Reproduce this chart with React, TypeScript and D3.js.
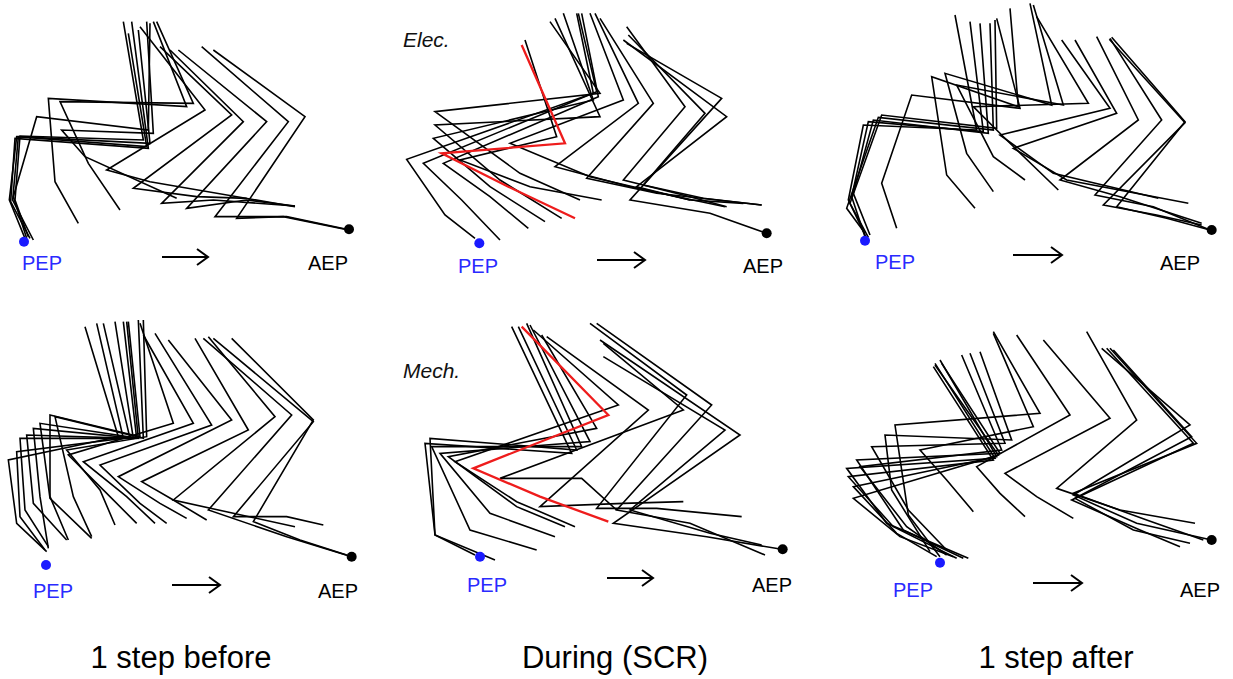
import React from 'react';
import * as d3 from 'd3';

type Pt = [number, number];
type Stick = Pt[];

// Column titles and row labels
const columnTitles = ['1 step before', 'During (SCR)', '1 step after'];
const rowLabels = ['Elec.', 'Mech.'];

// Leg stick figures (joint coordinates: coxa, femur-tibia, tibia-tarsus, tarsus, tip), in 1/3-px panel units
const elecBefore: Stick[] = [
  [[385, 100], [440, 440], [50, 410], [28, 600], [75, 715]],
  [[395, 65], [445, 445], [45, 415], [32, 605], [90, 715]],
  [[415, 90], [450, 430], [55, 410], [38, 600], [100, 720]],
  [[370, 65], [430, 420], [60, 408], [45, 600], [85, 710]],
  [[450, 70], [445, 390], [110, 350], [40, 590], [80, 715]],
  [[440, 65], [460, 400], [185, 390], [255, 470], [530, 595]],
  [[460, 65], [560, 320], [145, 295], [165, 545], [235, 670]],
  [[470, 65], [580, 310], [180, 305], [265, 490], [360, 630]],
  [[420, 80], [615, 330], [320, 510], [450, 545], [885, 620]],
  [[480, 140], [695, 345], [400, 565], [590, 590], [740, 595]],
  [[510, 150], [730, 365], [485, 610], [640, 600], [885, 618]],
  [[535, 150], [800, 365], [560, 625], [740, 600], [885, 618]],
  [[605, 140], [865, 365], [645, 650], [860, 650], [1040, 688]],
  [[640, 150], [915, 350], [710, 655], [850, 650], [1045, 690]],
];

const elecDuring: Stick[] = [
  [[560, 40], [610, 280], [50, 478], [165, 645], [255, 715]],
  [[565, 40], [620, 275], [100, 490], [215, 600], [330, 720]],
  [[575, 40], [625, 290], [160, 490], [300, 590], [415, 685]],
  [[520, 40], [610, 300], [130, 415], [300, 560], [465, 665]],
  [[495, 55], [630, 350], [135, 375], [330, 540], [515, 655]],
  [[480, 65], [630, 280], [135, 335], [390, 520], [570, 600]],
  [[405, 120], [500, 410], [210, 480], [420, 560], [635, 600]],
  [[600, 40], [700, 300], [360, 430], [600, 530], [900, 600]],
  [[615, 40], [745, 310], [495, 500], [720, 560], [1005, 620]],
  [[630, 55], [790, 310], [590, 535], [800, 580], [1115, 615]],
  [[710, 80], [885, 320], [700, 540], [900, 590], [1010, 620]],
  [[715, 105], [945, 340], [760, 555], [940, 595], [1115, 615]],
  [[710, 130], [995, 295], [720, 600], [960, 640], [1130, 700]],
  [[700, 120], [1010, 350], [740, 560], [900, 600], [1060, 610]],
];
const elecDuringRed: Stick = [[395, 135], [525, 430], [155, 460], [355, 560], [555, 655]];

const elecAfter: Stick[] = [
  [[405, 45], [470, 390], [130, 375], [85, 600], [140, 715]],
  [[450, 65], [490, 395], [145, 365], [95, 590], [135, 710]],
  [[480, 70], [505, 400], [160, 360], [100, 580], [150, 705]],
  [[510, 70], [520, 390], [175, 352], [80, 625], [135, 700]],
  [[525, 60], [530, 385], [185, 345], [90, 610], [145, 712]],
  [[530, 55], [600, 325], [275, 285], [185, 550], [230, 685]],
  [[570, 25], [595, 320], [335, 230], [380, 525], [465, 625]],
  [[630, 10], [695, 315], [375, 220], [440, 460], [520, 575]],
  [[640, 15], [730, 315], [410, 255], [520, 470], [615, 540]],
  [[650, 50], [805, 310], [460, 320], [560, 420], [715, 570]],
  [[725, 120], [870, 325], [540, 405], [700, 520], [1015, 595]],
  [[765, 120], [890, 340], [580, 445], [740, 540], [1105, 610]],
  [[830, 110], [955, 360], [720, 540], [900, 590], [1145, 670]],
  [[870, 115], [1025, 360], [825, 585], [1000, 620], [1170, 690]],
  [[875, 112], [1095, 365], [890, 620], [1040, 655], [1170, 690]],
  [[868, 118], [1095, 368], [850, 615], [1010, 645], [1145, 675]],
];

const mechBefore: Stick[] = [
  [[255, 50], [355, 380], [25, 450], [50, 640], [140, 725]],
  [[290, 40], [370, 385], [50, 425], [60, 620], [135, 720]],
  [[310, 40], [390, 385], [60, 385], [75, 600], [145, 710]],
  [[345, 35], [400, 385], [80, 375], [100, 580], [200, 690]],
  [[370, 35], [410, 385], [100, 355], [120, 560], [145, 715]],
  [[380, 35], [415, 385], [120, 340], [150, 565], [275, 685]],
  [[385, 35], [420, 380], [150, 315], [150, 560], [205, 690]],
  [[415, 30], [430, 385], [165, 320], [220, 560], [275, 680]],
  [[430, 30], [440, 380], [200, 420], [300, 540], [345, 645]],
  [[420, 40], [520, 340], [205, 435], [330, 560], [410, 640]],
  [[430, 75], [580, 340], [250, 455], [380, 560], [465, 640]],
  [[465, 70], [635, 345], [300, 465], [420, 580], [500, 640]],
  [[505, 90], [695, 330], [355, 500], [480, 580], [560, 625]],
  [[585, 85], [745, 360], [425, 515], [520, 570], [620, 630]],
  [[625, 80], [825, 320], [520, 570], [700, 610], [885, 650]],
  [[610, 85], [875, 315], [625, 600], [860, 680], [1055, 740]],
  [[640, 85], [940, 335], [700, 620], [860, 620], [970, 645]],
  [[695, 85], [940, 330], [760, 635], [900, 690], [1040, 735]],
];

const mechDuring: Stick[] = [
  [[365, 50], [545, 430], [105, 400], [135, 675], [315, 750]],
  [[385, 50], [560, 420], [120, 385], [135, 675], [255, 735]],
  [[410, 40], [575, 410], [125, 410], [240, 660], [440, 720]],
  [[420, 45], [600, 395], [150, 430], [300, 610], [495, 680]],
  [[455, 75], [620, 355], [175, 440], [380, 590], [525, 650]],
  [[430, 60], [685, 285], [195, 455], [380, 575], [555, 650]],
  [[470, 80], [775, 300], [450, 590], [700, 580], [880, 575]],
  [[600, 40], [890, 255], [620, 595], [800, 595], [1055, 620]],
  [[620, 40], [965, 285], [680, 600], [900, 640], [1125, 735]],
  [[630, 90], [1050, 375], [670, 640], [950, 680], [1175, 718]],
  [[640, 140], [1005, 360], [720, 600], [960, 670], [1115, 705]],
  [[640, 100], [880, 300], [330, 505], [575, 505], [680, 600]],
];
const mechDuringRed: Stick = [[395, 50], [655, 315], [250, 475], [450, 560], [655, 635]];

const mechAfter: Stick[] = [
  [[345, 160], [525, 445], [80, 475], [200, 640], [445, 745]],
  [[340, 170], [520, 450], [85, 500], [220, 650], [410, 745]],
  [[360, 150], [530, 440], [100, 530], [230, 670], [350, 740]],
  [[345, 165], [535, 435], [100, 565], [240, 680], [400, 740]],
  [[365, 160], [540, 430], [110, 450], [250, 660], [430, 745]],
  [[425, 135], [545, 420], [120, 470], [260, 650], [380, 735]],
  [[450, 130], [555, 400], [155, 410], [265, 600], [380, 720]],
  [[480, 125], [575, 390], [195, 375], [215, 540], [330, 725]],
  [[520, 65], [660, 310], [225, 345], [265, 615], [360, 740]],
  [[520, 70], [640, 350], [300, 420], [380, 510], [460, 605]],
  [[590, 75], [750, 315], [470, 470], [540, 550], [615, 620]],
  [[670, 90], [870, 325], [555, 490], [650, 560], [760, 625]],
  [[800, 65], [950, 330], [710, 535], [900, 600], [1125, 640]],
  [[845, 115], [1110, 345], [760, 555], [950, 640], [1175, 690]],
  [[860, 115], [1120, 400], [755, 570], [960, 660], [1080, 710]],
  [[870, 115], [1130, 400], [760, 550], [980, 630], [1150, 690]],
  [[880, 120], [1115, 380], [765, 565], [940, 660], [1110, 700]],
];

// PEP / AEP foot positions per panel (same units)
const pepPoints: Pt[] = [[72, 725], [268, 730], [135, 722], [138, 765], [270, 740], [360, 758]];
const aepPoints: Pt[] = [[1047, 688], [1130, 700], [1175, 690], [1055, 740], [1178, 718], [1175, 690]];

// ---- layout (not data) ----
const panelOrigins: Pt[] = [[0, 0], [390, 0], [820, 0], [0, 310], [390, 310], [820, 310]];
const pepLabelPos: Pt[] = [[22, 270], [458, 273], [875, 269], [33, 598], [467, 592], [893, 597]];
const aepLabelPos: Pt[] = [[308, 270], [743, 273], [1160, 270], [318, 598], [752, 592], [1180, 597]];
const arrowPos: [number, number, number][] = [
  [162, 208, 257], [597, 645, 260], [1013, 1062, 255],
  [172, 220, 585], [607, 653, 578], [1033, 1082, 583],
];
const titleCenters = [181, 615, 1056];
const rowLabelPos: Pt[] = [[403, 47], [403, 378]];

const panels = [
  { sticks: elecBefore, red: null as Stick | null },
  { sticks: elecDuring, red: elecDuringRed },
  { sticks: elecAfter, red: null },
  { sticks: mechBefore, red: null },
  { sticks: mechDuring, red: mechDuringRed },
  { sticks: mechAfter, red: null },
];

const FONT = 'Arial, "Liberation Sans", Helvetica, sans-serif';

export default function App() {
  const s = d3.scaleLinear().domain([0, 1200]).range([0, 400]);
  const line = d3
    .line<Pt>()
    .x((d) => s(d[0]))
    .y((d) => s(d[1]));

  return (
    <svg
      width={1233}
      height={679}
      style={{ position: 'absolute', left: 0, top: 0, background: '#fff' }}
      fontFamily={FONT}
    >
      {panels.map((p, i) => {
        const [ox, oy] = panelOrigins[i];
        const pep = pepPoints[i];
        const aep = aepPoints[i];
        const [ax0, ax1, ay] = arrowPos[i];
        return (
          <g key={i}>
            <g transform={`translate(${ox},${oy})`}>
              {p.sticks.map((st, j) => (
                <path
                  key={j}
                  d={line(st) || ''}
                  fill="none"
                  stroke="#000"
                  strokeWidth={1.6}
                  strokeLinejoin="miter"
                />
              ))}
              {p.red && (
                <path d={line(p.red) || ''} fill="none" stroke="#ee1c1c" strokeWidth={2.3} />
              )}
              <circle cx={s(pep[0])} cy={s(pep[1])} r={5} fill="#1a1aff" />
              <circle cx={s(aep[0])} cy={s(aep[1])} r={5} fill="#000" />
            </g>
            <text x={pepLabelPos[i][0]} y={pepLabelPos[i][1]} fontSize={20} fill="#2a2aff">
              PEP
            </text>
            <text x={aepLabelPos[i][0]} y={aepLabelPos[i][1]} fontSize={20} fill="#000">
              AEP
            </text>
            <path
              d={`M${ax0},${ay}H${ax1}M${ax1 - 11},${ay - 8}L${ax1},${ay}L${ax1 - 11},${ay + 8}`}
              fill="none"
              stroke="#000"
              strokeWidth={2}
            />
          </g>
        );
      })}
      {rowLabels.map((t, i) => (
        <text
          key={t}
          x={rowLabelPos[i][0]}
          y={rowLabelPos[i][1]}
          fontSize={21}
          fontStyle="italic"
          fill="#111"
        >
          {t}
        </text>
      ))}
      {columnTitles.map((t, i) => (
        <text key={t} x={titleCenters[i]} y={668} fontSize={31} textAnchor="middle" fill="#000">
          {t}
        </text>
      ))}
    </svg>
  );
}
